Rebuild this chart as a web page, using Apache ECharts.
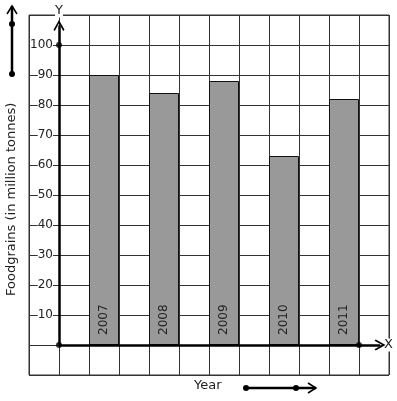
<!DOCTYPE html>
<html>
<head>
<meta charset="utf-8">
<script src="https://cdn.jsdelivr.net/npm/echarts@6/dist/echarts.min.js"></script>
<style>
  html, body { margin: 0; padding: 0; background: #fff; }
  #main { width: 397px; height: 401px; }
</style>
</head>
<body>
<div id="main"></div>
<script>
// 数据
const years = ['2007', '2008', '2009', '2010', '2011']
const foodgrains = [90, 84, 88, 63, 82]
const yTicks = [10, 20, 30, 40, 50, 60, 70, 80, 90, 100]

// 每根柱子占一格，隔一格放一根
const barData = foodgrains.map((v, i) => [2 * i + 1.5, v])

// 空心箭头
const chevron = 'path://M5,0L0,7.5L1.2,8.5L5,2.6L8.8,8.5L10,7.5Z'
const font = 'DejaVu Sans'

const myChart = echarts.init(document.getElementById('main'))
const option = {
  animation: false,
  backgroundColor: '#fff',
  grid: {
    left: 29, top: 15, width: 360, height: 360,
    outerBoundsMode: 'none', containLabel: false,
    show: true, borderColor: '#333', borderWidth: 1
  },
  xAxis: {
    type: 'value', min: -1, max: 11, interval: 1,
    name: 'X', nameLocation: 'end', nameGap: -5,
    nameTextStyle: { fontFamily: font, fontSize: 13, color: '#222', backgroundColor: '#fff', verticalAlign: 'middle' },
    axisLine: { show: true, onZero: true, lineStyle: { color: 'rgba(0,0,0,0)', width: 0 } },
    axisTick: { show: false },
    axisLabel: { show: false },
    splitLine: { show: true, lineStyle: { color: '#333', width: 1 } }
  },
  yAxis: {
    type: 'value', min: -10, max: 110, interval: 10,
    name: 'Y', nameLocation: 'end', nameGap: 4,
    nameTextStyle: { fontFamily: font, fontSize: 13, color: '#222', backgroundColor: '#fff', align: 'center', verticalAlign: 'middle' },
    axisLine: { show: true, onZero: true, lineStyle: { color: 'rgba(0,0,0,0)', width: 0 } },
    axisTick: { show: false },
    axisLabel: {
      // 刻度标签贴在 Y 轴左边（网格左边界右侧 24px）
      margin: -24, align: 'right', fontFamily: font, fontSize: 12, color: '#222',
      backgroundColor: '#fff',
      formatter: v => (yTicks.indexOf(v) >= 0 ? String(v) : '')
    },
    splitLine: { show: true, lineStyle: { color: '#333', width: 1 } }
  },
  graphic: [
    // 纵轴标题
    {
      type: 'text', x: 5, y: 296, rotation: Math.PI / 2,
      style: { text: 'Foodgrains (in million tonnes)', font: '13px "DejaVu Sans"', fill: '#222' }
    },
    // 左上角的方向箭头
    { type: 'line', shape: { x1: 12, y1: 74, x2: 12, y2: 6 }, style: { stroke: '#000', lineWidth: 2.5 } },
    { type: 'polyline', shape: { points: [[7, 14], [12, 6], [17, 14]] }, style: { stroke: '#000', lineWidth: 1.5, fill: null } },
    { type: 'circle', shape: { cx: 12, cy: 24, r: 3 }, style: { fill: '#000' } },
    { type: 'circle', shape: { cx: 12, cy: 74, r: 3 }, style: { fill: '#000' } },
    // 底部 Year 与箭头
    { type: 'text', x: 194, y: 379, style: { text: 'Year', font: '13px "DejaVu Sans"', fill: '#222' } },
    { type: 'line', shape: { x1: 246, y1: 388, x2: 316, y2: 388 }, style: { stroke: '#000', lineWidth: 2.5 } },
    { type: 'polyline', shape: { points: [[308, 383], [316, 388], [308, 393]] }, style: { stroke: '#000', lineWidth: 1.5, fill: null } },
    { type: 'circle', shape: { cx: 246, cy: 388, r: 3 }, style: { fill: '#000' } },
    { type: 'circle', shape: { cx: 296, cy: 388, r: 3 }, style: { fill: '#000' } }
  ],
  series: [
    {
      type: 'bar',
      data: barData,
      barWidth: 30,
      itemStyle: { color: '#999', borderColor: '#111', borderWidth: 1 },
      label: {
        show: true, position: 'insideBottom', rotate: 90, distance: 10,
        align: 'left', verticalAlign: 'middle',
        fontFamily: font, fontSize: 12, color: '#222',
        formatter: p => years[p.dataIndex]
      },
      markLine: {
        silent: true,
        symbol: ['none', chevron],
        symbolSize: [11, 11],
        label: { show: false },
        lineStyle: { color: '#000', width: 2.5, type: 'solid' },
        data: [
          [{ coord: [0, 0] }, { coord: [10.7, 0] }],
          [{ coord: [0, 0] }, { coord: [0, 106.5] }]
        ]
      }
    },
    {
      type: 'scatter',
      data: [[0, 0], [10, 0], [0, 100]],
      symbolSize: 6,
      itemStyle: { color: '#000' },
      z: 5
    }
  ]
}
myChart.setOption(option)
</script>
</body>
</html>
